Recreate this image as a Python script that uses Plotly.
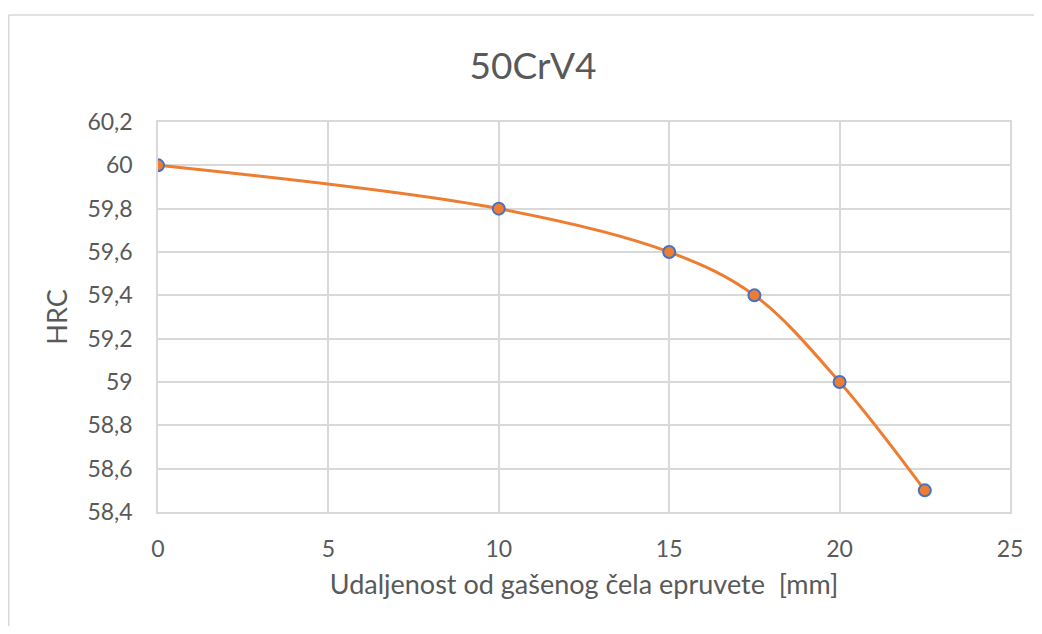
import plotly.graph_objects as go

# Jominy test data, 50CrV4
distance_mm = [0, 10, 15, 17.5, 20, 22.5]
hardness_hrc = [60, 59.8, 59.6, 59.4, 59, 58.5]

x_ticks = [0, 5, 10, 15, 20, 25]
y_ticks = [58.4, 58.6, 58.8, 59.0, 59.2, 59.4, 59.6, 59.8, 60.0, 60.2]
y_tick_text = ["58,4", "58,6", "58,8", "59", "59,2", "59,4", "59,6", "59,8", "60", "60,2"]

TEXT = "#595959"
GRID = "#d9d9d9"
LINE = "#ED7D31"
EDGE = "#4472C4"
FONT = "Lato, Calibri, sans-serif"

# page body adds an 8px margin all round, so the figure is drawn smaller to fit
W, H = 1026, 618
L, R, T, B = 150, 24, 114, 114
pw, ph = W - L - R, H - T - B

fig = go.Figure(go.Scatter(
    x=distance_mm, y=hardness_hrc,
    mode="lines+markers",
    line=dict(color=LINE, width=3, shape="spline", smoothing=1),
    marker=dict(size=12, color=LINE, line=dict(color=EDGE, width=2)),
))

# outer chart border (left and top edges; the rest runs off the page)
bx0 = (0.75 - L) / pw
by1 = 1 + (T - 7) / ph
fig.add_shape(type="line", xref="paper", yref="paper", layer="below",
              x0=bx0, x1=bx0, y0=by1, y1=-(H - T - ph) / ph,
              line=dict(color=GRID, width=1.5))
fig.add_shape(type="line", xref="paper", yref="paper", layer="below",
              x0=bx0, x1=(W - L) / pw, y0=by1, y1=by1,
              line=dict(color=GRID, width=1.5))

fig.update_layout(
    width=W, height=H,
    margin=dict(l=L, r=R, t=T, b=B),
    paper_bgcolor="white", plot_bgcolor="white",
    showlegend=False,
    font=dict(family=FONT, color=TEXT, size=23),
    title=dict(text="50CrV4", x=525 / W, xref="container", xanchor="center",
               y=1 - 58 / H, yref="container", yanchor="middle",
               font=dict(size=37, color=TEXT, family=FONT)),
)
fig.update_xaxes(
    range=[0, 25], tickvals=x_ticks, showgrid=True, gridcolor=GRID, gridwidth=1.5,
    showline=True, linecolor=GRID, linewidth=1.5, mirror=True, zeroline=False,
    ticks="outside", ticklen=16, tickcolor="rgba(0,0,0,0)",
    tickfont=dict(size=23, color=TEXT),
    title=dict(text="Udaljenost od gašenog čela epruvete  [mm]", standoff=14,
               font=dict(size=27, color=TEXT)),
)
fig.update_yaxes(
    range=[58.4, 60.2], tickvals=y_ticks, ticktext=y_tick_text,
    showgrid=True, gridcolor=GRID, gridwidth=1.5,
    showline=True, linecolor=GRID, linewidth=1.5, mirror=True, zeroline=False,
    ticks="outside", ticklen=19, tickcolor="rgba(0,0,0,0)",
    tickfont=dict(size=23, color=TEXT),
    title=dict(text="HRC", standoff=12, font=dict(size=27, color=TEXT)),
)

fig.write_html("out.html")
